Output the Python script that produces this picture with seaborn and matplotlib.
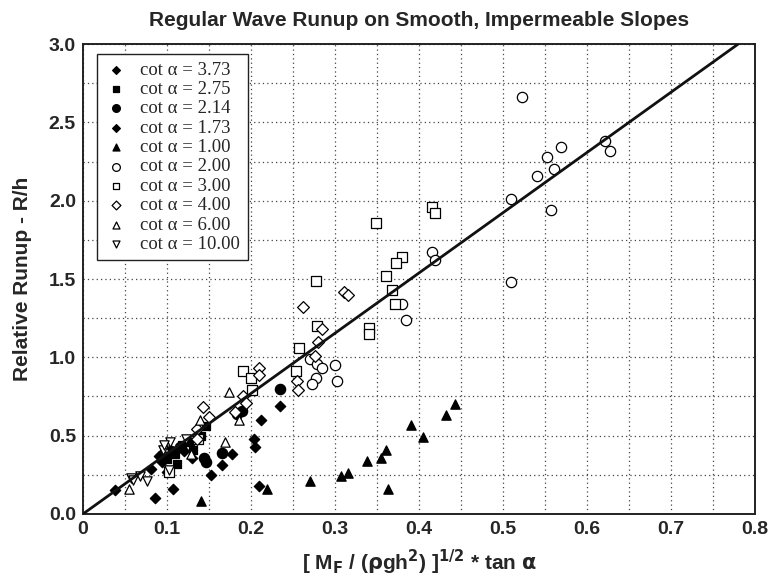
import matplotlib
matplotlib.use("Agg")
import matplotlib.pyplot as plt
from matplotlib.ticker import MultipleLocator
import seaborn as sns
import pandas as pd

# ---- data ----
labels = ["cot α = 3.73", "cot α = 2.75", "cot α = 2.14", "cot α = 1.73", "cot α = 1.00",
          "cot α = 2.00", "cot α = 3.00", "cot α = 4.00", "cot α = 6.00", "cot α = 10.00"]

cot373_x = [0.038, 0.086, 0.107, 0.153, 0.166, 0.177, 0.210, 0.081, 0.100]
cot373_y = [0.15, 0.10, 0.16, 0.25, 0.31, 0.38, 0.18, 0.29, 0.27]

cot275_x = [0.147, 0.131, 0.112, 0.110, 0.118, 0.100, 0.127, 0.140]
cot275_y = [0.56, 0.41, 0.32, 0.38, 0.44, 0.35, 0.46, 0.50]

cot214_x = [0.234, 0.189, 0.183, 0.166, 0.144, 0.147, 0.115, 0.105]
cot214_y = [0.80, 0.66, 0.64, 0.39, 0.355, 0.33, 0.43, 0.40]

cot173_x = [0.204, 0.205, 0.212, 0.235, 0.094, 0.091, 0.120, 0.130]
cot173_y = [0.48, 0.43, 0.60, 0.69, 0.33, 0.37, 0.40, 0.36]

cot100_x = [0.443, 0.432, 0.390, 0.405, 0.361, 0.355, 0.338, 0.315, 0.307, 0.270, 0.363, 0.219, 0.141]
cot100_y = [0.70, 0.63, 0.57, 0.49, 0.41, 0.36, 0.34, 0.26, 0.24, 0.21, 0.16, 0.16, 0.08]

cot200_x = [0.523, 0.622, 0.628, 0.569, 0.552, 0.561, 0.541, 0.509, 0.557, 0.415, 0.419, 0.510,
            0.380, 0.385, 0.270, 0.279, 0.285, 0.300, 0.277, 0.273, 0.302]
cot200_y = [2.66, 2.38, 2.32, 2.34, 2.28, 2.20, 2.16, 2.01, 1.94, 1.67, 1.62, 1.48,
            1.34, 1.24, 0.99, 0.96, 0.93, 0.95, 0.87, 0.83, 0.85]

cot300_x = [0.415, 0.419, 0.349, 0.380, 0.373, 0.277, 0.361, 0.368, 0.372, 0.279, 0.340, 0.340,
            0.257, 0.254, 0.191, 0.200, 0.201, 0.137, 0.102]
cot300_y = [1.96, 1.92, 1.86, 1.64, 1.60, 1.49, 1.52, 1.43, 1.34, 1.20, 1.19, 1.15,
            1.06, 0.91, 0.91, 0.87, 0.79, 0.48, 0.27]

cot400_x = [0.262, 0.311, 0.315, 0.285, 0.280, 0.276, 0.255, 0.256, 0.209, 0.210, 0.143, 0.150,
            0.190, 0.194, 0.181, 0.136, 0.136]
cot400_y = [1.32, 1.42, 1.40, 1.18, 1.10, 1.01, 0.85, 0.79, 0.93, 0.89, 0.68, 0.62,
            0.75, 0.71, 0.65, 0.54, 0.48]

cot600_x = [0.174, 0.139, 0.186, 0.169, 0.129, 0.096, 0.055]
cot600_y = [0.78, 0.60, 0.60, 0.46, 0.38, 0.43, 0.16]

cot1000_x = [0.104, 0.123, 0.095, 0.076, 0.057, 0.060, 0.102, 0.096, 0.068]
cot1000_y = [0.46, 0.48, 0.41, 0.21, 0.23, 0.22, 0.28, 0.44, 0.24]

line_x = [0.0, 0.78]
line_y = [0.0, 3.0]

series_x = [cot373_x, cot275_x, cot214_x, cot173_x, cot100_x,
            cot200_x, cot300_x, cot400_x, cot600_x, cot1000_x]
series_y = [cot373_y, cot275_y, cot214_y, cot173_y, cot100_y,
            cot200_y, cot300_y, cot400_y, cot600_y, cot1000_y]

# ---- styling ----
markers = ["D", "s", "o", "D", "^", "o", "s", "D", "^", "v"]
filled = [True, True, True, True, True, False, False, False, False, False]
sizes = [28, 36, 55, 28, 45, 55, 45, 36, 45, 45]

sns.set_theme(style="white")
plt.rcParams["font.family"] = ["Liberation Sans", "DejaVu Sans"]

fig = plt.figure(figsize=(7.68, 5.83), dpi=100)
ax = fig.add_axes([0.108, 0.1184, 0.875, 0.806])

frames = []
for lab, xs, ys in zip(labels, series_x, series_y):
    frames.append(pd.DataFrame({"x": xs, "y": ys, "series": lab}))
df = pd.concat(frames, ignore_index=True)

for lab, m, f, s in zip(labels, markers, filled, sizes):
    sub = df[df["series"] == lab]
    sns.scatterplot(data=sub, x="x", y="y", marker=m, s=s,
                    color="black" if f else "white", edgecolor="black",
                    linewidth=0.9, label=lab, ax=ax, zorder=3)

sns.lineplot(x=line_x, y=line_y, color="#111111", linewidth=2.0, ax=ax, zorder=4)

ax.set_xlim(0, 0.8)
ax.set_ylim(0, 3.0)
ax.xaxis.set_major_locator(MultipleLocator(0.1))
ax.xaxis.set_minor_locator(MultipleLocator(0.05))
ax.yaxis.set_major_locator(MultipleLocator(0.5))
ax.yaxis.set_minor_locator(MultipleLocator(0.25))
ax.xaxis.set_major_formatter(plt.FuncFormatter(lambda v, p: "0" if abs(v) < 1e-9 else f"{v:.1f}"))
ax.yaxis.set_major_formatter(plt.FuncFormatter(lambda v, p: f"{v:.1f}"))
ax.grid(True, which="both", linestyle=(0, (1, 2.5)), color="#444444", linewidth=0.9)
ax.tick_params(which="both", length=0, labelsize=14, pad=5)
for lbl in ax.get_xticklabels() + ax.get_yticklabels():
    lbl.set_fontweight("bold")
for sp in ax.spines.values():
    sp.set_color("#222222")
    sp.set_linewidth(1.4)

ax.set_title("Regular Wave Runup on Smooth, Impermeable Slopes", fontsize=15,
             fontweight="bold", pad=13)
ax.set_xlabel(r"[ M$_\mathbf{F}$ / ($\mathbf{\rho}$gh$^\mathbf{2}$) ]$^{\mathbf{1/2}}$ * tan $\mathbf{\alpha}$",
              fontsize=15, fontweight="bold", labelpad=7)
ax.set_ylabel("Relative Runup - R/h", fontsize=15, fontweight="bold", labelpad=12)

leg = ax.legend(loc="upper left", bbox_to_anchor=(0.021, 0.979), borderaxespad=0,
                frameon=True, fancybox=False,
                edgecolor="#222222", framealpha=1, borderpad=0.4, labelspacing=0.12,
                handletextpad=0.7, handlelength=1.2, markerscale=0.75,
                prop={"family": "Liberation Serif", "size": 13.5})
leg.get_frame().set_linewidth(1.0)

fig.savefig("out.png", dpi=100)
